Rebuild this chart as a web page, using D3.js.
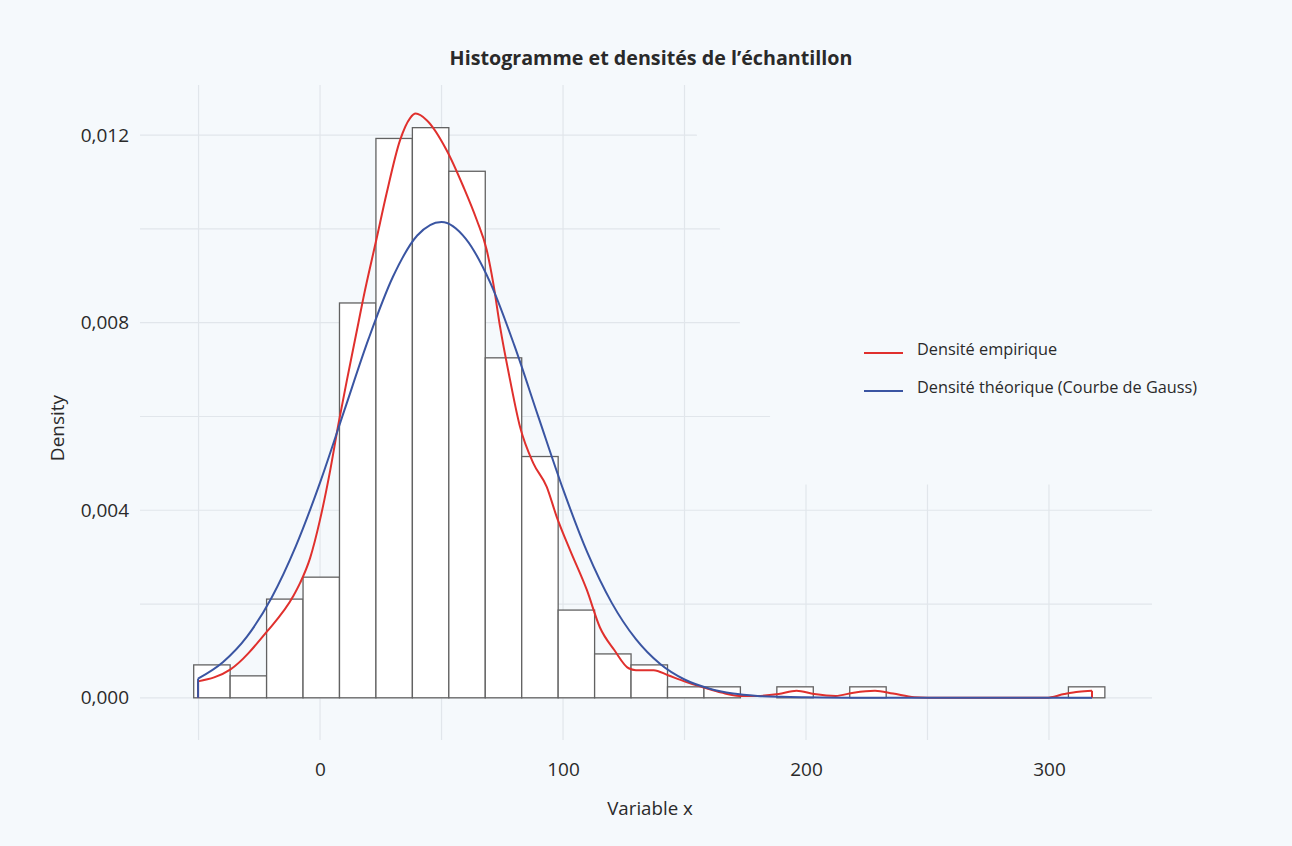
<!DOCTYPE html>
<html>
<head>
<meta charset="utf-8">
<script src="https://cdn.jsdelivr.net/npm/d3@7"></script>
<style>
  html, body { margin: 0; padding: 0; background: #f5f9fc; }
  svg { display: block; }
  text { font-family: "Open Sans", "Noto Sans", sans-serif; fill: #2a2a2a; }
</style>
</head>
<body>
<svg id="chart" width="1292" height="846"></svg>
<script>
// ---- Data ----
const histBreaks = [-52, -37, -22, -7, 8, 23, 38, 53, 68, 83, 98, 113, 128, 143, 158, 173, 188, 203, 218, 233, 248, 263, 278, 293, 308, 323];
const histDensity = [0.000702, 0.000468, 0.002105, 0.002573, 0.008421, 0.01193, 0.01216, 0.01123, 0.007251, 0.005146,
                     0.001871, 0.000936, 0.000702, 0.000234, 0.000234, 0, 0.000234, 0, 0.000234, 0,
                     0, 0, 0, 0, 0.000234];

const empX = [-50.2, -37.0, -21.9, -11.0, -8.2, -4.1, 0, 4.1, 7.5, 11.0, 15.8, 17.8, 23.3, 27.4, 32.9, 37.0, 39.4, 43.9,
              52.1, 59.0, 64.5, 68.6, 71.3, 74.1, 78.2, 82.3, 87.8, 93.3, 97.4, 102.9, 109.8, 115.2, 121.1, 127.0, 130.0,
              137.3, 143.2, 150.5, 157.9, 165.2, 172.5, 179.9, 188.7, 196.1, 203.4, 212.2, 219.6, 228.4, 235.8, 244.6,
              250, 260, 270, 280, 290, 298.9, 306.3, 312.2, 317.7];
const empY = [0.00035, 0.00060, 0.00141, 0.00217, 0.00245, 0.00298, 0.00380, 0.00483, 0.00582, 0.00676, 0.00800, 0.00852,
              0.00980, 0.01076, 0.01189, 0.01236, 0.01246, 0.01232, 0.01168, 0.01090, 0.01019, 0.00955, 0.00884, 0.00791,
              0.00678, 0.00578, 0.00500, 0.00450, 0.00386, 0.00315, 0.00230, 0.00150, 0.00102, 0.00063, 0.00059,
              0.00059, 0.00048, 0.00034, 0.00022, 0.00011, 0.00004, 0.00004, 0.00008, 0.00015, 0.00008, 0.00004,
              0.00011, 0.00015, 0.00009, 0.00001, 0, 0, 0, 0, 0, 0, 0.00008, 0.00013, 0.00015];

const gaussX = [-50.2, -40, -30, -20, -10, 0, 10, 20, 30, 40, 50, 60, 70, 80, 90, 100, 110, 120, 130, 140, 150,
                160, 170, 180, 190, 200, 220, 250, 280, 317.7];
const gaussY = [0.00041, 0.00076, 0.00131, 0.00213, 0.00323, 0.00459, 0.00613, 0.00766, 0.00898, 0.00986, 0.01015,
                0.00979, 0.00886, 0.00751, 0.00597, 0.00445, 0.00310, 0.00203, 0.00125, 0.00072, 0.00039,
                0.00020, 0.00009, 0.00004, 0.00002, 0.00001, 0, 0, 0, 0];

const xTicks = [0, 100, 200, 300];
const xTickLabels = ["0", "100", "200", "300"];
const xGrid = [-50, 0, 50, 100, 150, 200, 250, 300];
const yTicks = [0, 0.004, 0.008, 0.012];
const yTickLabels = ["0,000", "0,004", "0,008", "0,012"];
const yGrid = [0, 0.002, 0.004, 0.006, 0.008, 0.010, 0.012];

const legendLabels = ["Densité empirique", "Densité théorique (Courbe de Gauss)"];
const legendColors = ["#e0302d", "#3a55a2"];

// blank (background) region over the upper-right gridlines, in data units
const maskX = [150.8, 155.1, 164.6, 172.8, 185.2, 193.4, 346, 346];
const maskY = [0.0131, 0.012, 0.010, 0.008, 0.006, 0.00455, 0.00455, 0.0131];

(function () {
  const svg = d3.select("#chart");
  const W = 1292, H = 846;
  const pL = 140, pR = 1152, pT = 85, pB = 740;

  svg.append("rect").attr("width", W).attr("height", H).attr("fill", "#f5f9fc");

  const x = d3.scaleLinear().domain([-74.1, 342.4]).range([pL, pR]);
  const y = d3.scaleLinear().domain([-0.0009, 0.01307]).range([pB, pT]);

  // gridlines
  const grid = svg.append("g").attr("stroke", "#e1e6eb").attr("stroke-width", 1.2);
  grid.selectAll("line.h").data(yGrid).join("line").attr("class", "h")
    .attr("x1", pL).attr("x2", pR)
    .attr("y1", d => y(d)).attr("y2", d => y(d));
  grid.selectAll("line.v").data(xGrid).join("line").attr("class", "v")
    .attr("y1", pT).attr("y2", pB)
    .attr("x1", d => x(d)).attr("x2", d => x(d));

  svg.append("polygon")
    .attr("points", maskX.map((v, i) => x(v) + "," + y(maskY[i])).join(" "))
    .attr("fill", "#f5f9fc");

  // histogram
  const bins = histDensity.map((d, i) => ({ x0: histBreaks[i], x1: histBreaks[i + 1], d }));
  svg.append("g").selectAll("rect").data(bins.filter(b => b.d > 0)).join("rect")
    .attr("x", b => x(b.x0))
    .attr("width", b => x(b.x1) - x(b.x0))
    .attr("y", b => y(b.d))
    .attr("height", b => y(0) - y(b.d))
    .attr("fill", "#ffffff")
    .attr("stroke", "#626262")
    .attr("stroke-width", 1.3);

  // density curves
  const line = d3.line().x(d => x(d[0])).y(d => y(d[1])).curve(d3.curveMonotoneX);
  function drawCurve(xs, ys, color, closeEnd) {
    const pts = xs.map((v, i) => [v, ys[i]]);
    const g = svg.append("g").attr("fill", "none").attr("stroke", color).attr("stroke-width", 2);
    g.append("path").attr("d", line(pts));
    g.append("line").attr("x1", x(xs[0])).attr("x2", x(xs[0])).attr("y1", y(0)).attr("y2", y(ys[0]));
    if (closeEnd) {
      const n = xs.length - 1;
      g.append("line").attr("x1", x(xs[n])).attr("x2", x(xs[n])).attr("y1", y(0)).attr("y2", y(ys[n]));
    }
  }
  drawCurve(empX, empY, legendColors[0], true);
  drawCurve(gaussX, gaussY, legendColors[1], false);

  // axes
  const yAxis = svg.append("g").attr("transform", `translate(${pL},0)`)
    .call(d3.axisLeft(y).tickValues(yTicks).tickFormat((d, i) => yTickLabels[i]).tickSize(0).tickPadding(11));
  yAxis.select(".domain").remove();
  yAxis.selectAll("text").attr("font-size", 19).attr("fill", "#2a2a2a").attr("font-weight", 500)
    .style("font-family", "'Open Sans', sans-serif");

  const xAxis = svg.append("g").attr("transform", `translate(0,${pB})`)
    .call(d3.axisBottom(x).tickValues(xTicks).tickFormat((d, i) => xTickLabels[i]).tickSize(0).tickPadding(23));
  xAxis.select(".domain").remove();
  xAxis.selectAll("text").attr("font-size", 19).attr("fill", "#2a2a2a").attr("font-weight", 500)
    .style("font-family", "'Open Sans', sans-serif");

  // titles
  svg.append("text").attr("x", 651).attr("y", 65).attr("text-anchor", "middle")
    .attr("font-size", 19.7).attr("font-weight", "bold").attr("fill", "#1e1e1e")
    .text("Histogramme et densités de l’échantillon");

  svg.append("text").attr("x", 650).attr("y", 815).attr("text-anchor", "middle")
    .attr("font-size", 18.7).attr("font-weight", 500).text("Variable x");

  svg.append("text").attr("transform", "translate(64,428) rotate(-90)").attr("text-anchor", "middle")
    .attr("font-size", 19).attr("font-weight", 500).text("Density");

  // legend
  const leg = svg.append("g");
  legendLabels.forEach((lab, i) => {
    const cy = 353 + i * 38;
    leg.append("line").attr("x1", 864).attr("x2", 903).attr("y1", cy).attr("y2", cy)
      .attr("stroke", legendColors[i]).attr("stroke-width", 2);
    leg.append("text").attr("x", 917).attr("y", cy - 4).attr("dy", "0.35em")
      .attr("font-size", 16.3).attr("font-weight", 500).text(lab);
  });
})();
</script>
</body>
</html>
